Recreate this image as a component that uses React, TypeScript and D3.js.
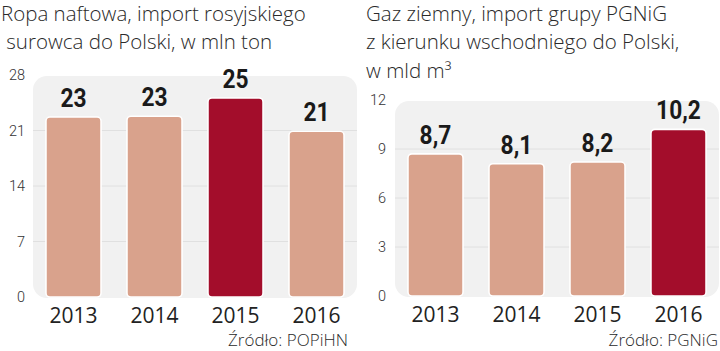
import React from "react";
import * as d3 from "d3";

const years = ["2013", "2014", "2015", "2016"];
const oilValues = [22.7, 22.8, 25.1, 20.9];
const oilLabels = ["23", "23", "25", "21"];
const oilTicks = [0, 7, 14, 21, 28];
const oilHighlight = "2015";
const gasValues = [8.7, 8.1, 8.2, 10.2];
const gasLabels = ["8,7", "8,1", "8,2", "10,2"];
const gasTicks = [0, 3, 6, 9, 12];
const gasHighlight = "2016";

const LIGHT = "#d9a28c";
const DARK = "#a30d2b";
const PANEL = "#f1f1f1";
const GRID = "#e0e0e0";
const FONT = "Roboto, 'Noto Sans', sans-serif";
const FONT2 = "'Open Sans', 'Noto Sans', sans-serif";

type PanelProps = {
  values: number[];
  labels: string[];
  ticks: number[];
  highlight: string;
  x0: number;
  x1: number;
  yTop: number;
  yBottom: number;
  tickX: number;
  source: string;
  sourceX: number;
  title: string[];
  titleX: number[];
};

function Panel(p: PanelProps) {
  const max = p.ticks[p.ticks.length - 1];
  const y = d3.scaleLinear().domain([0, max]).range([p.yBottom, p.yTop]);
  const x = d3
    .scaleBand<string>()
    .domain(years)
    .range([p.x0, p.x1])
    .paddingInner(0.32)
    .paddingOuter(0.16);
  return (
    <g>
      {p.title.map((t, i) => (
        <text
          key={i}
          x={p.titleX[i]}
          y={20.5 + i * 28.5}
          fontFamily={FONT2}
          fontWeight={300}
          fontSize={20.5}
          fill="#2a2a2a"
          style={{ whiteSpace: "pre" }}
        >
          {t}
        </text>
      ))}
      <rect
        x={p.x0}
        y={y(max) + 1}
        width={p.x1 - p.x0}
        height={y(0) - y(max)}
        rx={14}
        fill={PANEL}
      />
      {p.ticks.slice(1, -1).map((t) => (
        <line
          key={t}
          x1={p.x0}
          x2={p.x1}
          y1={y(t)}
          y2={y(t)}
          stroke={GRID}
          strokeWidth={1}
        />
      ))}
      {p.ticks.map((t) => (
        <text
          key={t}
          x={p.tickX}
          y={y(t)}
          dy="0.35em"
          textAnchor="end"
          fontFamily={FONT}
          fontWeight={300}
          fontSize={14.5}
          fill="#333"
        >
          {t}
        </text>
      ))}
      {years.map((yr, i) => {
        const cx = x(yr)! + x.bandwidth() / 2;
        return (
          <g key={yr}>
            <rect
              x={x(yr)!}
              y={y(p.values[i])}
              width={x.bandwidth()}
              height={y(0) - y(p.values[i])}
              rx={4}
              fill={yr === p.highlight ? DARK : LIGHT}
              stroke="#fff"
              strokeWidth={1.6}
            />
            <text
              transform={`translate(${cx},${y(p.values[i]) - 10}) scale(0.86,1)`}
              textAnchor="middle"
              fontFamily={FONT}
              fontWeight={700}
              fontSize={26.5}
              fill="#1a1a1a"
            >
              {p.labels[i]}
            </text>
            <text
              x={cx}
              y={y(0) + 26}
              textAnchor="middle"
              fontFamily={FONT2}
              fontWeight={400}
              fontSize={21}
              fill="#222"
            >
              {yr}
            </text>
          </g>
        );
      })}
      <text
        x={p.sourceX}
        y={346}
        textAnchor="end"
        fontFamily={FONT2}
        fontWeight={300}
        fontSize={17}
        fill="#2a2a2a"
      >
        {p.source}
      </text>
    </g>
  );
}

export default function App() {
  return (
    <svg
      width={720}
      height={351}
      style={{ position: "absolute", left: 0, top: 0, background: "#fff" }}
    >
      <Panel
        values={oilValues}
        labels={oilLabels}
        ticks={oilTicks}
        highlight={oilHighlight}
        x0={33}
        x1={357}
        yTop={75}
        yBottom={297}
        tickX={25}
        source="Źródło: POPiHN"
        sourceX={348}
        title={["Ropa naftowa, import rosyjskiego", " surowca do Polski, w mln ton"]}
        titleX={[1, 1]}
      />
      <Panel
        values={gasValues}
        labels={gasLabels}
        ticks={gasTicks}
        highlight={gasHighlight}
        x0={395}
        x1={719}
        yTop={100}
        yBottom={296}
        tickX={386}
        source="Źródło: PGNiG"
        sourceX={718}
        title={["Gaz ziemny, import grupy PGNiG", "z kierunku wschodniego do Polski,", "w mld m³"]}
        titleX={[366, 366, 366]}
      />
    </svg>
  );
}
